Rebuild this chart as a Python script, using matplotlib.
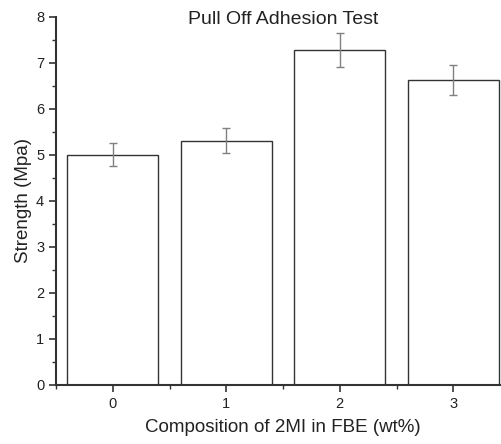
import matplotlib
matplotlib.use("Agg")
import matplotlib.pyplot as plt
from matplotlib.ticker import MultipleLocator

plt.rcParams['font.family'] = ['Liberation Sans', 'DejaVu Sans']

# pull-off adhesion strength vs 2MI loading
composition = [0, 1, 2, 3]
strength = [5.0, 5.3, 7.27, 6.62]
strength_err = [0.25, 0.27, 0.37, 0.33]

fig = plt.figure(figsize=(5.01, 4.44), dpi=100)
ax = fig.add_axes([56 / 501, 59.3 / 444, 454 / 501, 368 / 444])

ax.bar(composition, strength, width=0.8, color='white', edgecolor='#333333',
       linewidth=1.0, zorder=2)
ax.errorbar(composition, strength, yerr=strength_err, fmt='none',
            ecolor='#808080', elinewidth=1.0, capsize=3, capthick=1.0, zorder=3)

ax.set_xlim(-0.5, 3.5)
ax.set_ylim(0, 8)
ax.xaxis.set_major_locator(MultipleLocator(1))
ax.xaxis.set_minor_locator(MultipleLocator(0.5))
ax.yaxis.set_major_locator(MultipleLocator(1))
ax.yaxis.set_minor_locator(MultipleLocator(0.5))

for side in ('top', 'right'):
    ax.spines[side].set_visible(False)
for side in ('left', 'bottom'):
    ax.spines[side].set_color('#333333')
    ax.spines[side].set_linewidth(1.5)

ax.tick_params(which='major', direction='out', length=5, width=1.2,
               color='#333333', labelsize=10.5, labelcolor='#222222')
ax.tick_params(which='minor', direction='out', length=3, width=1.0,
               color='#333333')

ax.set_xlabel('Composition of 2MI in FBE (wt%)', fontsize=13.5, color='#222222',
              labelpad=6)
ax.set_ylabel('Strength (Mpa)', fontsize=13.5, color='#222222', labelpad=3)
ax.text(0.5, 0.993, 'Pull Off Adhesion Test', transform=ax.transAxes,
        ha='center', va='center', fontsize=14, color='#222222')

fig.savefig('out.png', dpi=100)
